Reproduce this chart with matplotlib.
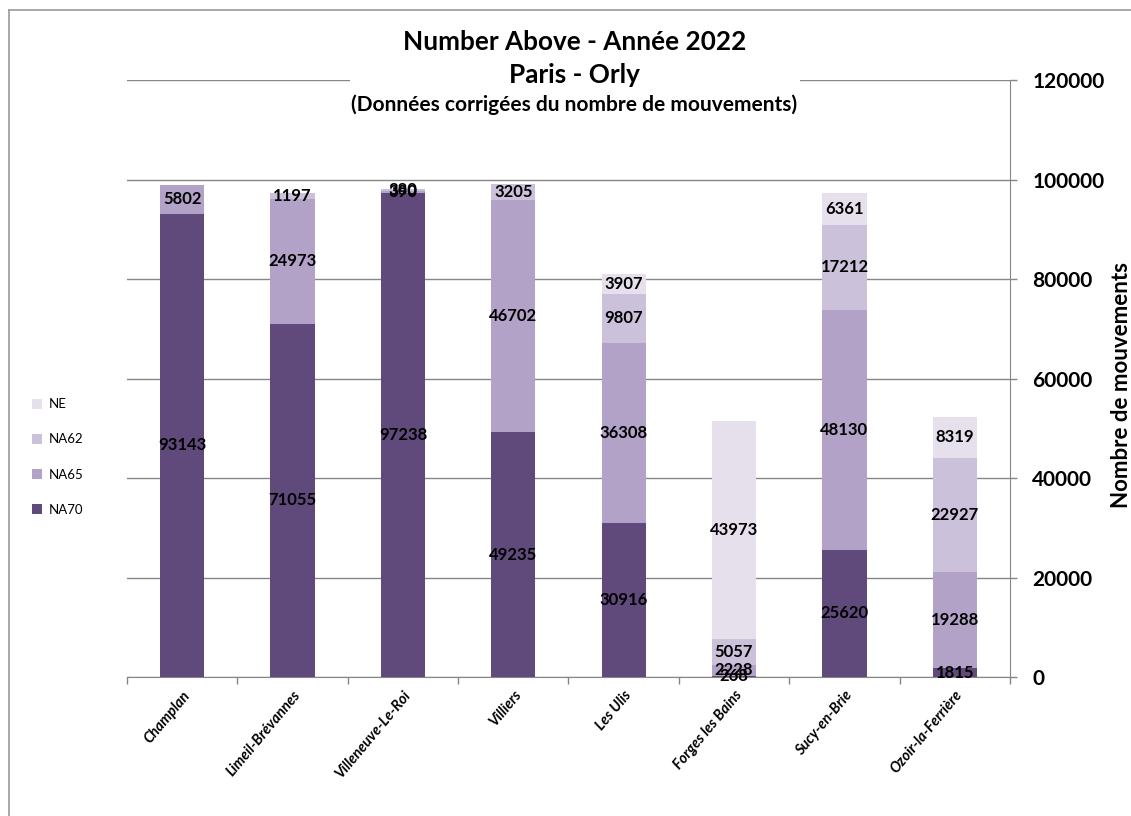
import matplotlib.pyplot as plt
from matplotlib.patches import Patch, Rectangle
from matplotlib.lines import Line2D
import numpy as np

plt.rcParams['font.family'] = ['Lato', 'DejaVu Sans']

# donnees
villes = ['Champlan', 'Limeil-Brévannes', 'Villeneuve-Le-Roi', 'Villiers', 'Les Ulis',
          'Forges les Bains', 'Sucy-en-Brie', 'Ozoir-la-Ferrière']
na70 = [93143, 71055, 97238, 49235, 30916, 268, 25620, 1815]
na65 = [5802, 24973, 390, 46702, 36308, 2228, 48130, 19288]
na62 = [0, 1197, 380, 3205, 9807, 5057, 17212, 22927]
ne = [0, 0, 0, 0, 3907, 43973, 6361, 8319]

series = [('NA70', na70, '#604a7b'), ('NA65', na65, '#b3a2c7'),
          ('NA62', na62, '#ccc1da'), ('NE', ne, '#e5e0ec')]

fig = plt.figure(figsize=(11.31, 8.16), dpi=100)
ax = fig.add_axes([0.1123, 0.1703, 0.7807, 0.7316])

x = np.arange(len(villes))
bottom = np.zeros(len(villes))
for nom, vals, col in series:
    vals = np.array(vals, dtype=float)
    ax.bar(x, vals, bottom=bottom, width=0.40, color=col, zorder=3)
    for xi, b, v in zip(x, bottom, vals):
        if v > 0:
            ax.text(xi, b + v / 2, str(int(v)), ha='center', va='center',
                    fontsize=12, fontweight='bold', color='black', zorder=5)
    bottom += vals

ax.set_xlim(-0.5, len(villes) - 0.5)
ax.set_ylim(0, 120000)
ax.set_yticks(np.arange(0, 120001, 20000))
ax.yaxis.tick_right()
ax.tick_params(axis='y', labelsize=15, length=5, width=1, color='#868686', pad=11)
for lab in ax.get_yticklabels():
    lab.set_fontweight('bold')
ax.grid(axis='y', color='#868686', linewidth=1, zorder=0)

# titre axe y (a droite)
fig.text(1121 / 1131, 1 - 385 / 816, 'Nombre de mouvements', rotation=90,
         ha='center', va='center', fontsize=16, fontweight='bold')

# ticks x entre categories
ax.set_xticks(np.arange(-0.5, len(villes) + 0.5, 1))
ax.set_xticklabels([])
ax.tick_params(axis='x', length=5, width=1, color='#868686')
ax.set_xticks(x, minor=True)
ax.set_xticklabels(villes, minor=True, rotation=50, ha='right', rotation_mode='anchor',
                   fontsize=10.5, fontweight='bold', fontstyle='italic')
ax.tick_params(axis='x', which='minor', length=0, pad=8)

for s in ['top', 'left']:
    ax.spines[s].set_visible(False)
for s in ['right', 'bottom']:
    ax.spines[s].set_color('#868686')

# fond blanc derriere le titre
fig.patches.append(Rectangle((350 / 1131, 1 - 125 / 816), 450 / 1131, 110 / 816,
                             transform=fig.transFigure, facecolor='white',
                             edgecolor='none', zorder=10))
fig.text(0.508, 1 - 42 / 816, 'Number Above - Année 2022', ha='center', va='center',
         fontsize=18.8, fontweight='bold', zorder=11)
fig.text(0.508, 1 - 75 / 816, 'Paris - Orly', ha='center', va='center',
         fontsize=18.8, fontweight='bold', zorder=11)
fig.text(0.508, 1 - 105 / 816, '(Données corrigées du nombre de mouvements)',
         ha='center', va='center', fontsize=15, fontweight='bold', zorder=11)

# legende
handles = [Patch(facecolor=c, edgecolor='none', label=n) for n, v, c in series[::-1]]
fig.legend(handles=handles, loc='center left', bbox_to_anchor=(20 / 1131, 1 - 457 / 816),
           frameon=False, fontsize=9.5, handlelength=0.8, handleheight=0.8,
           handletextpad=0.5, labelspacing=1.75)

# cadre
fig.add_artist(Line2D([9 / 1131, 9 / 1131], [0, 1 - 10 / 816], color='#999999', lw=1.2))
fig.add_artist(Line2D([9 / 1131, 1], [1 - 10 / 816, 1 - 10 / 816], color='#999999', lw=1.2))

fig.savefig('out.png', dpi=100)
